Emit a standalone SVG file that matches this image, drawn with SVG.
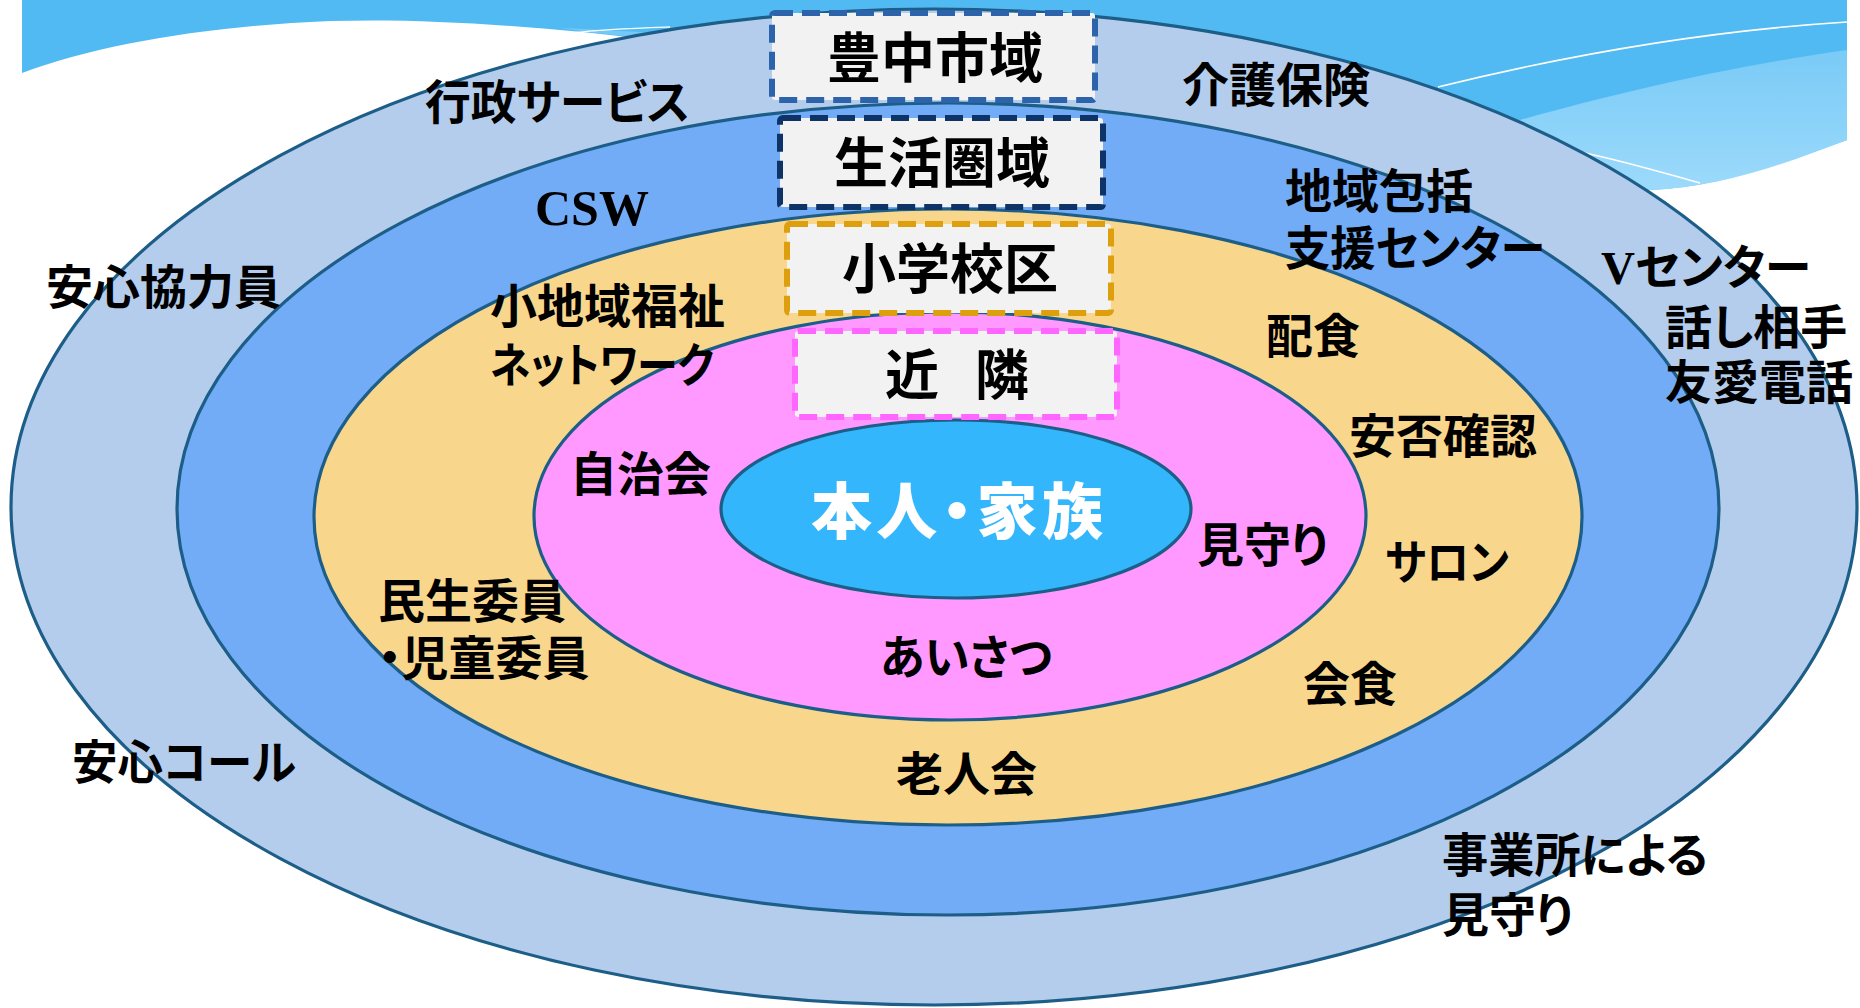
<svg xmlns="http://www.w3.org/2000/svg" width="1860" height="1008" viewBox="0 0 1860 1008">
  <defs>
    <linearGradient id="waveLight" x1="0" y1="0" x2="0" y2="1">
      <stop offset="0" stop-color="#74C8F6"/>
      <stop offset="1" stop-color="#9CDAFB"/>
    </linearGradient>
    <style>
      .ring { stroke: #1D5E88; stroke-width: 3.2; }
      .box { fill: #F2F2F2; stroke-width: 6; stroke-dasharray: 18 9; }
      .lbl { font-family: "Liberation Serif", "Noto Sans CJK JP", serif; font-weight: bold; font-size: 47px; fill: #000000; dominant-baseline: central; font-feature-settings: "palt"; }
      .boxlbl { font-family: "Liberation Serif", "Noto Sans CJK JP", serif; font-weight: bold; font-size: 54px; fill: #000000; text-anchor: middle; dominant-baseline: central; }
      .center { font-family: "Liberation Serif", "Noto Sans CJK JP", serif; font-weight: 900; font-size: 61px; fill: #FFFFFF; text-anchor: middle; dominant-baseline: central; font-feature-settings: "palt"; }
    </style>
  </defs>

  <rect x="0" y="0" width="1860" height="1008" fill="#FFFFFF"/>

  <!-- background wave -->
  <g id="background">
    <path d="M22,0 H1847 V140 C1770,168 1710,188 1650,190 C1300,170 900,60 560,30 C470,22 400,19 330,21 C210,26 100,44 22,73 Z" fill="#52BAF3"/>
    <path d="M1847,50 C1720,68 1610,95 1520,120 C1200,90 850,40 560,28 C600,34 640,38 680,40 C1000,80 1400,180 1650,190 C1720,188 1790,162 1847,140 Z" fill="url(#waveLight)"/>
    <path d="M1438,87 C1580,52 1720,30 1847,22" fill="none" stroke="#FFFFFF" stroke-width="1.6"/>
    <path d="M1580,152 C1620,160 1660,172 1700,183" fill="none" stroke="#FFFFFF" stroke-width="1.6"/>
    <path d="M572,33 C605,29 640,28 670,27" fill="none" stroke="#FFFFFF" stroke-width="1.4"/>
  </g>

  <!-- concentric areas -->
  <g id="area-city"><ellipse class="ring" cx="934" cy="507" rx="923" ry="498" fill="#B4CDEC"/></g>
  <g id="area-life"><ellipse class="ring" cx="948" cy="509" rx="771" ry="406" fill="#72ACF7"/></g>
  <g id="area-school"><ellipse class="ring" cx="948" cy="517" rx="634" ry="308" fill="#F8D78D"/></g>
  <g id="area-neighbor"><ellipse class="ring" cx="950" cy="516" rx="416" ry="204" fill="#FF99FF"/></g>
  <g id="node-self">
    <ellipse class="ring" cx="956" cy="509" rx="235" ry="89" fill="#33B6FC"/>
    <text class="center" x="957" y="513" textLength="292" lengthAdjust="spacing">本人・家族</text>
  </g>

  <!-- area title boxes -->
  <g id="box-city">
    <rect class="box" x="772" y="13" width="323" height="87" rx="3" stroke="#2D63AA"/>
    <text class="boxlbl" x="935" y="60">豊中市域</text>
  </g>
  <g id="box-life">
    <rect class="box" x="780" y="118" width="323" height="89" rx="3" stroke="#0E3366"/>
    <text class="boxlbl" x="942" y="165">生活圏域</text>
  </g>
  <g id="box-school">
    <rect class="box" x="787" y="224" width="324" height="89" rx="3" stroke="#DE9F0E"/>
    <text class="boxlbl" x="950" y="271">小学校区</text>
  </g>
  <g id="box-neighbor">
    <rect class="box" x="795" y="331" width="322" height="86" rx="3" stroke="#FF66FF"/>
    <text class="boxlbl" x="957" y="377" textLength="144" lengthAdjust="spacing">近　隣</text>
  </g>

  <!-- labels -->
  <g id="labels-city">
    <text class="lbl" x="425" y="103" textLength="265" lengthAdjust="spacingAndGlyphs">行政サービス</text>
    <text class="lbl" x="1182" y="86">介護保険</text>
    <text class="lbl" x="46" y="288">安心協力員</text>
    <text class="lbl" x="1601" y="268" textLength="210" lengthAdjust="spacingAndGlyphs">Vセンター</text>
    <text class="lbl" x="1665" y="328">話し相手</text>
    <text class="lbl" x="1665" y="383">友愛電話</text>
    <text class="lbl" x="72" y="763" textLength="224" lengthAdjust="spacingAndGlyphs">安心コール</text>
    <text class="lbl" x="1442" y="856" textLength="266" lengthAdjust="spacingAndGlyphs">事業所による</text>
    <text class="lbl" x="1442" y="916">見守り</text>
  </g>
  <g id="labels-life">
    <text class="lbl" x="535" y="208" style="font-size:50px">CSW</text>
    <text class="lbl" x="1285" y="192">地域包括</text>
    <text class="lbl" x="1285" y="249" textLength="260" lengthAdjust="spacingAndGlyphs">支援センター</text>
  </g>
  <g id="labels-school">
    <text class="lbl" x="490" y="307">小地域福祉</text>
    <text class="lbl" x="490" y="366" textLength="224" lengthAdjust="spacingAndGlyphs">ネットワーク</text>
    <text class="lbl" x="1266" y="337">配食</text>
    <text class="lbl" x="1349" y="437">安否確認</text>
    <text class="lbl" x="1385" y="563" textLength="124" lengthAdjust="spacingAndGlyphs">サロン</text>
    <text class="lbl" x="378" y="602">民生委員</text>
    <text class="lbl" x="378" y="659">・児童委員</text>
    <text class="lbl" x="1303" y="685">会食</text>
    <text class="lbl" x="896" y="775">老人会</text>
  </g>
  <g id="labels-neighbor">
    <text class="lbl" x="570" y="475">自治会</text>
    <text class="lbl" x="1197" y="546">見守り</text>
    <text class="lbl" x="880" y="658" textLength="172" lengthAdjust="spacingAndGlyphs">あいさつ</text>
  </g>
</svg>
